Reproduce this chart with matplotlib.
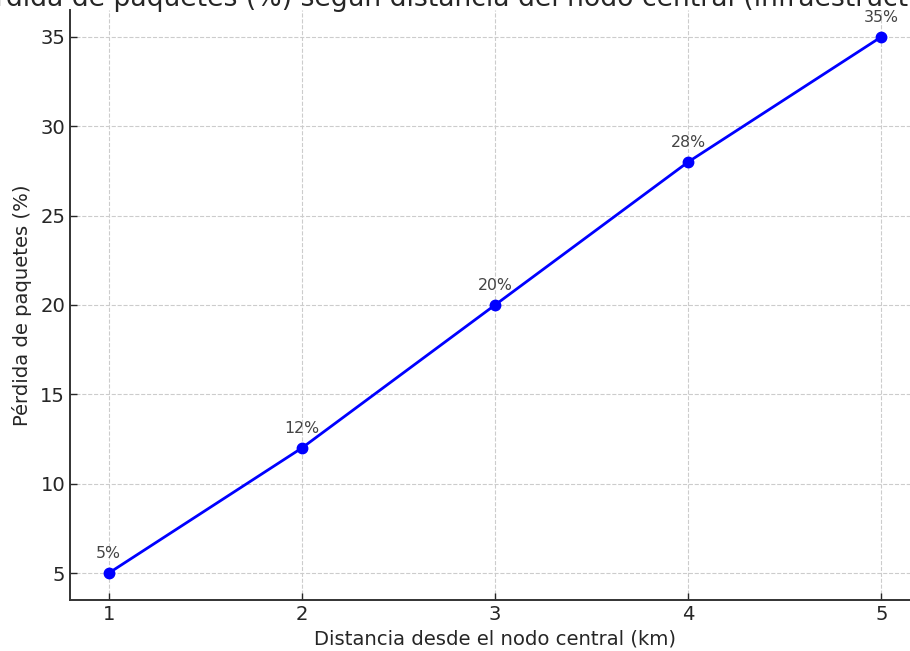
import matplotlib.pyplot as plt

# ---- data ----
distancia_km = [1, 2, 3, 4, 5]
perdida_pct = [5, 12, 20, 28, 35]
etiquetas = [f"{v}%" for v in perdida_pct]

titulo = "Pérdida de paquetes (%) según distancia del nodo central (infraestructura actual)"

plt.rcParams['text.color'] = '#262626'
plt.rcParams['axes.labelcolor'] = '#262626'
plt.rcParams['xtick.color'] = '#262626'
plt.rcParams['ytick.color'] = '#262626'

fig = plt.figure(figsize=(9.1, 6.51), dpi=100)
# axes runs a little past the right edge, as in the reference crop
ax = fig.add_axes([70 / 910, 51 / 651, 850 / 910, 590 / 651])

ax.plot(distancia_km, perdida_pct, 'o-', color='blue', linewidth=2.0, markersize=7.5)

for x, y, txt in zip(distancia_km, perdida_pct, etiquetas):
    ax.annotate(txt, (x, y), textcoords="offset points", xytext=(0, 11),
                ha='center', fontsize=11.3, color='#444444')

ax.set_xticks(distancia_km)
ax.set_xlabel("Distancia desde el nodo central (km)", fontsize=14.1)
ax.set_ylabel("Pérdida de paquetes (%)", fontsize=14.1, labelpad=6)
ax.tick_params(direction='in', labelsize=14.1, length=5, width=1)
ax.grid(True, linestyle='--', color='#cccccc', linewidth=0.8)
ax.spines['top'].set_visible(False)
ax.spines['right'].set_visible(False)
ax.spines['left'].set_color('#333333')
ax.spines['bottom'].set_color('#333333')
ax.spines['left'].set_linewidth(1.4)
ax.spines['bottom'].set_linewidth(1.4)

# title is cut off at the top of the reference
fig.text(-36 / 910, 1 - 6.5 / 651, titulo, ha='left', va='baseline', fontsize=19.2)

fig.savefig("out.png", dpi=100)
